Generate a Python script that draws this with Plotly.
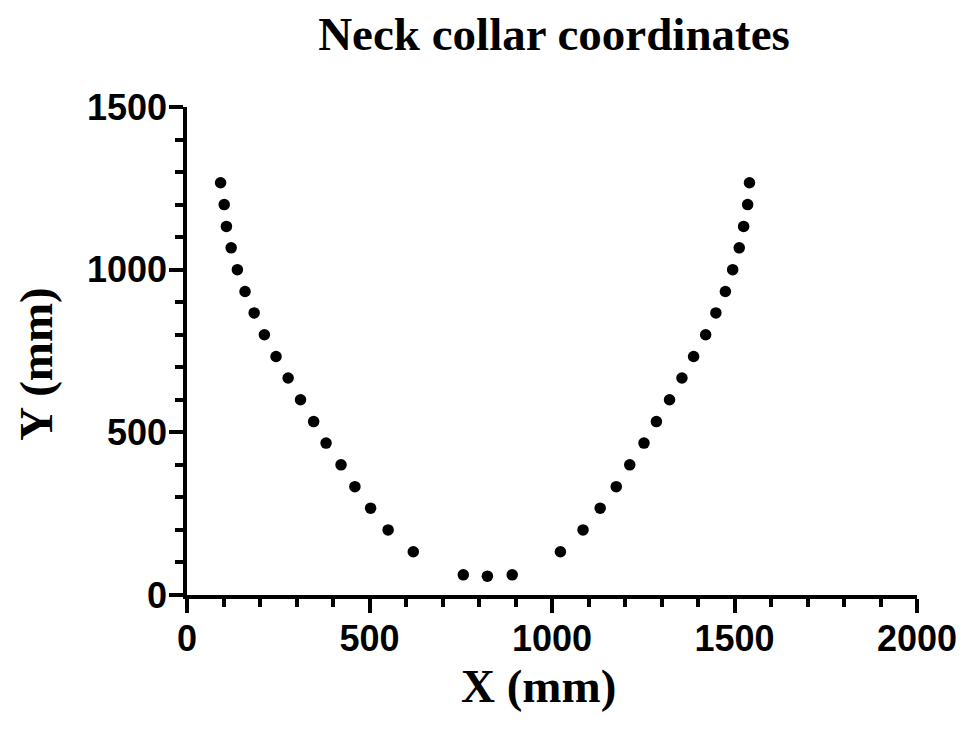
import plotly.graph_objects as go

# Neck collar coordinate points (mm)
x_mm = [92, 102, 108, 121, 138, 159, 184, 212, 244, 277, 311, 347, 381, 422,
        460, 503, 551, 620, 757, 823, 891,
        1023, 1085, 1132, 1176, 1213, 1252, 1286, 1322, 1356, 1388, 1421,
        1449, 1475, 1495, 1513, 1525, 1536, 1541]
y_mm = [1267, 1200, 1133, 1067, 1000, 933, 867, 800, 733, 667, 600, 533, 467, 400,
        333, 267, 200, 133, 62, 58, 62,
        133, 200, 267, 333, 400, 467, 533, 600, 667, 733, 800,
        867, 933, 1000, 1067, 1133, 1200, 1267]

x_ticks = [0, 500, 1000, 1500, 2000]
y_ticks = [0, 500, 1000, 1500]

tick_font = dict(family="Liberation Sans, Arial", size=36, color="black", weight="bold")
serif = "Liberation Serif, Times New Roman"

fig = go.Figure()

fig.add_trace(
    go.Scatter(
        x=x_mm,
        y=y_mm,
        mode="markers",
        marker=dict(color="black", size=11.5),
        showlegend=False,
    )
)

axis_common = dict(
    showgrid=False,
    zeroline=False,
    showline=True,
    linecolor="black",
    linewidth=3.5,
    ticks="outside",
    ticklen=14,
    tickwidth=3.5,
    tickcolor="black",
    tickfont=tick_font,
    ticklabelstandoff=-5,
)

fig.update_layout(
    width=975,
    height=729,
    plot_bgcolor="white",
    paper_bgcolor="white",
    # page has an 8px body margin, so offsets are shifted by that amount
    margin=dict(l=179, r=66, t=99, b=142),
    title=dict(
        text="Neck collar coordinates",
        font=dict(family=serif, size=47, color="black", weight="bold"),
        x=0.560,
        xanchor="center",
        y=0.965,
        yanchor="middle",
    ),
    xaxis=dict(
        range=[0, 2000],
        tickvals=x_ticks,
        minor=dict(dtick=100, ticks="outside", ticklen=8, tickwidth=3.5, tickcolor="black"),
        **axis_common,
    ),
    yaxis=dict(
        range=[0, 1500],
        tickvals=y_ticks,
        minor=dict(dtick=100, ticks="outside", ticklen=8, tickwidth=3.5, tickcolor="black"),
        **axis_common,
    ),
    annotations=[
        dict(
            text="X (mm)", xref="paper", yref="paper", x=0.481, y=-0.186,
            xanchor="center", yanchor="middle", showarrow=False,
            font=dict(family=serif, size=47, color="black", weight="bold"),
        ),
        dict(
            text="Y (mm)", xref="paper", yref="paper", x=-0.206, y=0.473,
            xanchor="center", yanchor="middle", showarrow=False, textangle=-90,
            font=dict(family=serif, size=47, color="black", weight="bold"),
        ),
    ],
)

fig.write_html("out.html")
